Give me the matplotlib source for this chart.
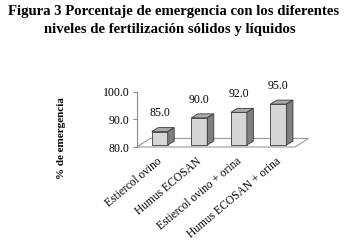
import matplotlib
matplotlib.use("Agg")
import matplotlib.pyplot as plt
from matplotlib.patches import Polygon, Rectangle

plt.rcParams["font.family"] = "Liberation Serif"

CATEGORIES = ["Estiercol ovino", "Humus ECOSAN",
              "Estiercol ovino + orina", "Humus ECOSAN + orina"]
VALUES = [85.0, 90.0, 92.0, 95.0]
Y_TICKS = [80, 90, 100]

TITLE_1 = "Figura 3 Porcentaje de emergencia con los diferentes"
TITLE_2 = "niveles de fertilización sólidos y líquidos"
Y_LABEL = "% de emergencia"

FRONT = "#d6d6d6"
TOP = "#a9a9a9"
SIDE = "#7f7f7f"
EDGE = "#3a3a3a"
FLOOR_EDGE = "#9a9a9a"

fig = plt.figure(figsize=(3.48, 2.45), dpi=100)
ax = fig.add_axes([0.3928, 0.4, 0.4549, 0.2245])
ax.set_xlim(-0.5, len(CATEGORIES) - 0.5)
ax.set_ylim(80, 100)

# fake 3d: floor depth and bar depth, in data units
FDX, FDY = 0.34, 3.1
BDX, BDY = 0.165, 1.45
BW = 0.404

floor = Polygon([(-0.5, 80), (3.5, 80), (3.5 + FDX, 80 + FDY),
                 (-0.5 + FDX, 80 + FDY)], closed=True,
                facecolor="white", edgecolor=FLOOR_EDGE, linewidth=0.8,
                clip_on=False, zorder=1)
ax.add_patch(floor)

for i, v in enumerate(VALUES):
    x0 = i - 0.121
    x1 = x0 + BW
    y0 = 80.7
    y1 = v + 0.6
    ax.add_patch(Rectangle((x0, y0), BW, y1 - y0, facecolor=FRONT,
                           edgecolor=EDGE, linewidth=0.6, clip_on=False,
                           zorder=3))
    ax.add_patch(Polygon([(x0, y1), (x1, y1), (x1 + BDX, y1 + BDY),
                          (x0 + BDX, y1 + BDY)], closed=True,
                         facecolor=TOP, edgecolor=EDGE, linewidth=0.6,
                         clip_on=False, zorder=3))
    ax.add_patch(Polygon([(x1, y0), (x1 + BDX, y0 + BDY),
                          (x1 + BDX, y1 + BDY), (x1, y1)], closed=True,
                         facecolor=SIDE, edgecolor=EDGE, linewidth=0.6,
                         clip_on=False, zorder=3))
    ax.text(x0 + BW / 2, v + 7.2, f"{v:.1f}", ha="center", va="center",
            fontsize=8.5, clip_on=False)

for s in ("top", "right", "bottom"):
    ax.spines[s].set_visible(False)
ax.spines["left"].set_color("#8c8c8c")
ax.spines["left"].set_linewidth(0.8)
ax.set_yticks(Y_TICKS)
ax.set_yticklabels([f"{t:.1f}" for t in Y_TICKS], fontsize=8.5)
ax.tick_params(axis="y", length=3, color="#8c8c8c", pad=2)
ax.set_xticks(range(len(CATEGORIES)))
ax.set_xticklabels(CATEGORIES, rotation=40, ha="right",
                   rotation_mode="anchor", fontsize=8.3)
ax.tick_params(axis="x", length=0, pad=6)
ax.patch.set_visible(False)

fig.text(61.7 / 348, 1 - 138 / 245, Y_LABEL, rotation=90, ha="center",
         va="center", fontsize=8, fontweight="bold")
fig.text(174 / 348, 1 - 12 / 245, TITLE_1, ha="center", va="center",
         fontsize=10.6, fontweight="bold")
fig.text(170 / 348, 1 - 30 / 245, TITLE_2, ha="center", va="center",
         fontsize=10.6, fontweight="bold")

fig.savefig("out.png", dpi=100, facecolor="white")
